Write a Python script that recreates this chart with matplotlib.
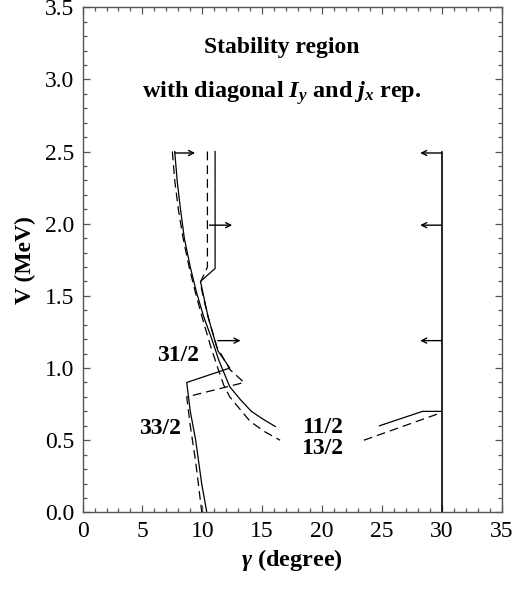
import matplotlib

matplotlib.use("Agg")
import matplotlib.pyplot as plt
from matplotlib.ticker import MultipleLocator


# long curves (11/2 solid, 13/2 dashed), split where the labels sit
GAMMA_11_LEFT = [7.7, 7.9, 8.15, 8.5, 9.0, 9.5, 10.1, 10.8, 11.4, 12.0, 12.3, 13.2, 14.1, 15.0, 16.1]
V_11_LEFT = [2.5, 2.3, 2.12, 1.9, 1.7, 1.53, 1.36, 1.2, 1.05, 0.93, 0.87, 0.78, 0.70, 0.65, 0.595]
GAMMA_11_RIGHT = [24.8, 28.4, 30.0]
V_11_RIGHT = [0.60, 0.70, 0.70]

GAMMA_13_LEFT = [7.5, 7.7, 8.0, 8.4, 8.9, 9.5, 10.1, 10.7, 11.3, 11.8, 12.3, 13.2, 14.0, 15.2, 16.5]
V_13_LEFT = [2.5, 2.3, 2.1, 1.9, 1.7, 1.5, 1.32, 1.15, 1.0, 0.88, 0.80, 0.71, 0.63, 0.56, 0.50]
GAMMA_13_RIGHT = [23.5, 29.6, 30.0]
V_13_RIGHT = [0.50, 0.68, 0.70]

# 31/2 and 33/2 boundaries
GAMMA_31 = [11.07, 11.07, 9.85, 10.5, 11.3, 12.3, 8.7, 9.0, 9.45, 9.95, 10.38]
V_31 = [2.5, 1.69, 1.60, 1.35, 1.12, 1.0, 0.90, 0.70, 0.50, 0.20, 0.0]
GAMMA_33 = [10.43, 10.43, 9.82, 10.4, 11.2, 12.3, 13.5, 8.7, 9.0, 9.45, 9.96]
V_33 = [2.5, 1.70, 1.59, 1.38, 1.15, 0.99, 0.90, 0.80, 0.60, 0.35, 0.0]

GAMMA_EDGE = [30.0, 30.0]
V_EDGE = [0.0, 2.5]

# arrows: (gamma start, gamma end, V)
ARROWS = [
    (7.7, 9.4, 2.49),
    (10.6, 12.5, 1.99),
    (11.3, 13.2, 1.19),
    (30.0, 28.2, 2.49),
    (30.0, 28.2, 1.99),
    (30.0, 28.2, 1.19),
]

LABELS = [
    ("31/2", 7.95, 1.09),
    ("33/2", 6.5, 0.58),
    ("11/2", 20.05, 0.59),
    ("13/2", 20.05, 0.44),
]

plt.rcParams["font.family"] = ["Liberation Serif", "DejaVu Serif"]
plt.rcParams["mathtext.fontset"] = "custom"
plt.rcParams["mathtext.it"] = "Liberation Serif:italic:bold"
plt.rcParams["mathtext.rm"] = "Liberation Serif:bold"

fig = plt.figure(figsize=(5.16, 6.0), dpi=100)
ax = fig.add_axes([0.160, 0.146, 0.812, 0.842])

line_kw = dict(color="black", linewidth=0.9)
dash_kw = dict(color="black", linewidth=0.9, linestyle=(0, (7, 4)))

ax.plot(GAMMA_11_LEFT, V_11_LEFT, **line_kw)
ax.plot(GAMMA_11_RIGHT, V_11_RIGHT, **line_kw)
ax.plot(GAMMA_13_LEFT, V_13_LEFT, **dash_kw)
ax.plot(GAMMA_13_RIGHT, V_13_RIGHT, **dash_kw)
ax.plot(GAMMA_31, V_31, **line_kw)
ax.plot(GAMMA_33, V_33, **dash_kw)
ax.plot(GAMMA_EDGE, V_EDGE, color="black", linewidth=1.2)

for g0, g1, v in ARROWS:
    ax.annotate("", xy=(g1, v), xytext=(g0, v),
                arrowprops=dict(arrowstyle="->", color="black", lw=1.0,
                                shrinkA=0, shrinkB=0, mutation_scale=9))

for text, g, v in LABELS:
    ax.text(g, v, text, fontsize=17, fontweight="bold", ha="center", va="center")

ax.text(16.6, 3.22, "Stability region", fontsize=17, fontweight="bold",
        ha="center", va="center")
ax.text(16.6, 2.905, r"with diagonal $I_y$ and $j_x$ rep.",
        fontsize=17.5, fontweight="bold", ha="center", va="center")

ax.set_xlim(0, 35)
ax.set_ylim(0, 3.5)
ax.xaxis.set_major_locator(MultipleLocator(5))
ax.xaxis.set_minor_locator(MultipleLocator(1))
ax.yaxis.set_major_locator(MultipleLocator(0.5))
ax.yaxis.set_minor_locator(MultipleLocator(0.1))
ax.yaxis.set_major_formatter(plt.FormatStrFormatter("%.1f"))
ax.tick_params(which="both", direction="in", top=True, right=True,
               color="#555555", width=0.9, labelsize=17, pad=6)
ax.tick_params(which="major", length=5)
ax.tick_params(which="minor", length=3)
for spine in ax.spines.values():
    spine.set_color("#555555")
    spine.set_linewidth(1.0)

ax.set_xlabel(r"$\gamma$ (degree)", fontsize=17.5, fontweight="bold", labelpad=4)
ax.set_ylabel("V (MeV)", fontsize=17, fontweight="bold", labelpad=6)

fig.savefig("out.png", dpi=100)
